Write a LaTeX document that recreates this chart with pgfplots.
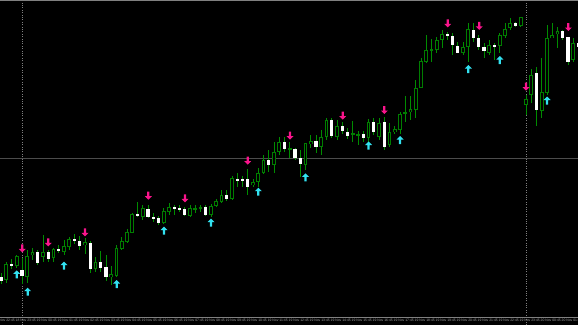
\documentclass[border=0pt]{standalone}
\usepackage{pgfplots}
\usepackage{pgfplotstable}
\usepackage{fontspec}
\setmainfont{Liberation Sans}
\pgfplotsset{compat=1.18}
\definecolor{wick}{RGB}{0,140,0}
\definecolor{bodyg}{RGB}{0,125,0}
\definecolor{pinkarr}{RGB}{250,20,140}
\definecolor{cyanarr}{RGB}{50,225,240}
\definecolor{tickgray}{RGB}{165,165,165}
\pgfdeclareplotmark{uparr}{%
 \pgfpathmoveto{\pgfpoint{0pt}{4pt}}%
 \pgfpathlineto{\pgfpoint{3.5pt}{0.5pt}}%
 \pgfpathlineto{\pgfpoint{1.1pt}{0.5pt}}%
 \pgfpathlineto{\pgfpoint{1.1pt}{-4pt}}%
 \pgfpathlineto{\pgfpoint{-1.1pt}{-4pt}}%
 \pgfpathlineto{\pgfpoint{-1.1pt}{0.5pt}}%
 \pgfpathlineto{\pgfpoint{-3.5pt}{0.5pt}}%
 \pgfpathclose\pgfusepathqfill}
\pgfdeclareplotmark{downarr}{%
 \pgfpathmoveto{\pgfpoint{0pt}{-4pt}}%
 \pgfpathlineto{\pgfpoint{3.5pt}{-0.5pt}}%
 \pgfpathlineto{\pgfpoint{1.1pt}{-0.5pt}}%
 \pgfpathlineto{\pgfpoint{1.1pt}{4pt}}%
 \pgfpathlineto{\pgfpoint{-1.1pt}{4pt}}%
 \pgfpathlineto{\pgfpoint{-1.1pt}{-0.5pt}}%
 \pgfpathlineto{\pgfpoint{-3.5pt}{-0.5pt}}%
 \pgfpathclose\pgfusepathqfill}
% i = candle index, h = high, l = low, t = body top, b = body bottom (screen rows), k = 1 bull (hollow) / 0 bear (white)
\pgfplotstableread{
i h l t b k
0 273 284 277 281 0
1 262 283 264 280 1
2 259 269 264 266 0
3 255 268 256 266 1
4 258 284 270 276 0
5 250 283 256 277 1
6 248 260 252 255 1
7 250 265 252 263 0
8 235 262 252 257 1
9 250 262 252 259 0
10 248 262 249 258 1
11 245 253 249 251 0
12 240 255 246 252 1
13 237 250 239 247 1
14 234 244 239 241 0
15 236 250 241 246 0
16 238 254 242 245 1
17 241 273 243 269 0
18 257 272 262 269 1
19 251 272 262 268 0
20 255 281 267 277 0
21 266 285 274 277 1
22 245 277 248 276 1
23 237 250 241 249 1
24 229 243 232 242 1
25 213 233 214 233 1
26 202 217 214 216 0
27 205 220 208 217 1
28 205 218 209 217 0
29 213 222 217 218 0
30 216 225 218 223 0
31 208 224 211 223 1
32 203 215 207 212 1
33 205 215 207 208 0
34 205 212 208 209 0
35 207 216 209 215 0
36 205 217 208 216 1
37 205 213 208 209 1
38 205 212 207 209 1
39 205 216 207 215 0
40 204 217 206 215 1
41 199 207 201 206 1
42 190 203 195 202 1
43 190 201 195 199 0
44 176 200 178 199 1
45 173 187 179 180 0
46 176 187 179 180 0
47 169 195 179 187 0
48 179 187 182 185 1
49 168 187 173 182 1
50 155 174 160 173 1
51 150 172 160 165 0
52 142 173 152 165 1
53 137 155 142 152 1
54 137 152 142 149 0
55 142 158 148 150 1
56 148 160 149 158 0
57 150 177 158 164 0
58 143 170 143 165 1
59 135 148 141 144 1
60 135 153 141 147 0
61 130 155 137 147 1
62 118 140 120 137 1
63 118 138 120 136 0
64 120 140 126 137 1
65 122 134 126 131 0
66 128 139 132 136 0
67 121 142 133 135 1
68 131 145 134 135 1
69 131 142 134 138 0
70 119 142 122 138 1
71 118 135 122 132 0
72 118 140 123 137 1
73 117 150 122 147 0
74 123 147 132 145 1
75 126 134 129 132 1
76 112 134 114 130 1
77 96 122 112 114 1
78 96 120 109 112 1
79 80 118 88 110 1
80 58 88 61 88 1
81 35 63 50 62 1
82 39 62 49 50 1
83 37 53 40 50 1
84 30 48 34 40 1
85 32 40 34 36 0
86 33 55 36 45 0
87 42 53 46 53 0
88 42 55 47 53 1
89 23 62 29 47 1
90 23 42 30 38 0
91 35 50 38 47 0
92 43 58 47 51 0
93 40 55 45 53 1
94 43 60 45 47 0
95 33 53 35 46 1
96 23 38 29 36 1
97 18 30 23 28 1
98 22 27 23 26 0
99 17 27 17 26 1
100 95 115 99 105 1
101 69 103 75 95 1
102 67 126 73 110 0
103 58 118 92 111 1
104 25 95 38 93 1
105 23 38 35 38 1
106 27 48 31 34 1
107 30 40 31 38 0
108 37 65 37 62 0
109 38 62 43 60 1
110 40 50 43 47 0
}\candles
\pgfplotstableread{
x y
22.3 248.3
48.3 242.3
85 232.3
148.3 195.7
185 198.3
247.7 160.7
290 135.7
342.7 115.7
384.3 110
447.7 23.3
479.2 25.8
526 86.7
568.3 27
}\pinkdata
\pgfplotstableread{
x y
16.7 274.3
27.7 291.7
64 265.7
116.7 284
164 230.7
211 222.5
258.3 191.7
305.5 177.3
368.5 145.5
400 140
468.3 69
499.8 60
547 100.5
}\cyandata
\begin{document}
\begin{tikzpicture}
\begin{axis}[
  scale only axis, width=578pt, height=325pt,
  xmin=0, xmax=578, ymin=0, ymax=325,
  axis background/.style={fill=black},
  axis line style={draw=none},
  major tick length=0pt,
  xtick={4.75,25.75,46.75,67.75,88.75,109.75,130.75,151.75,172.75,193.75,214.75,235.75,256.75,277.75,298.75,319.75,340.75,361.75,382.75,403.75,424.75,445.75,466.75,487.75,508.75,529.75,550.75,571.75},
  xticklabels={18 Nov 22:45,18 Nov 23:45,19 Nov 00:45,19 Nov 01:45,19 Nov 02:45,19 Nov 03:45,19 Nov 04:45,19 Nov 05:45,19 Nov 06:45,19 Nov 07:45,19 Nov 08:45,19 Nov 09:45,19 Nov 10:45,19 Nov 11:45,19 Nov 12:45,19 Nov 13:45,19 Nov 14:45,19 Nov 15:45,19 Nov 16:45,19 Nov 17:45,19 Nov 18:45,19 Nov 19:45,19 Nov 20:45,19 Nov 21:45,19 Nov 22:45,19 Nov 23:45,20 Nov 00:45,20 Nov 01:45},
  xticklabel style={font=\fontsize{3.4}{4}\selectfont, text=tickgray, anchor=north, inner sep=0pt, yshift=5.6pt},
  ytick={167}, yticklabels={},
  ymajorgrids, major grid style={color=black!70!white, line width=0.8pt},
  extra y ticks={7.5,324.6}, extra y tick labels={},
  extra y tick style={ymajorgrids=true, major grid style={color=gray, line width=0.7pt}},
  extra x ticks={22.2,526.2}, extra x tick labels={},
  extra x tick style={xmajorgrids=true, major grid style={color=gray, line width=0.7pt, dash pattern=on 0.8pt off 1.6pt}},
]
% wicks
\addplot[draw=none, mark=none, error bars/.cd, y dir=both, y explicit, error mark=none,
  error bar style={draw=wick, line width=0.9pt, solid}]
  table[x expr=1+5.25*\thisrow{i}, y expr=325-(\thisrow{h}+\thisrow{l})/2, y error expr=(\thisrow{l}-\thisrow{h})/2] {\candles};
% hollow (bull) bodies: outline
\addplot[draw=none, mark=none, restrict expr to domain={\thisrow{k}}{0.5:1.5}, error bars/.cd, y dir=both, y explicit, error mark=none,
  error bar style={draw=bodyg, line width=3.8pt, solid}]
  table[x expr=1+5.25*\thisrow{i}, y expr=325-(\thisrow{t}+\thisrow{b})/2, y error expr={max((\thisrow{b}-\thisrow{t})/2,0.5)}] {\candles};
% hollow (bull) bodies: inside
\addplot[draw=none, mark=none, restrict expr to domain={\thisrow{k}}{0.5:1.5}, error bars/.cd, y dir=both, y explicit, error mark=none,
  error bar style={draw=black, line width=1.8pt, solid}]
  table[x expr=1+5.25*\thisrow{i}, y expr=325-(\thisrow{t}+\thisrow{b})/2, y error expr={max((\thisrow{b}-\thisrow{t})/2-1,0)}] {\candles};
% white (bear) bodies
\addplot[draw=none, mark=none, restrict expr to domain={\thisrow{k}}{-0.5:0.5}, error bars/.cd, y dir=both, y explicit, error mark=none,
  error bar style={draw=white, line width=3.4pt, solid}]
  table[x expr=1+5.25*\thisrow{i}, y expr=325-(\thisrow{t}+\thisrow{b})/2, y error expr={max((\thisrow{b}-\thisrow{t})/2,0.6)}] {\candles};
% fractal arrows
\addplot[only marks, mark=downarr, color=pinkarr] table[x=x, y expr=325-\thisrow{y}] {\pinkdata};
\addplot[only marks, mark=uparr, color=cyanarr] table[x=x, y expr=325-\thisrow{y}] {\cyandata};
\end{axis}
\pgfresetboundingbox
\path[use as bounding box] (current axis.south west) rectangle (current axis.north east);
\end{tikzpicture}
\end{document}
